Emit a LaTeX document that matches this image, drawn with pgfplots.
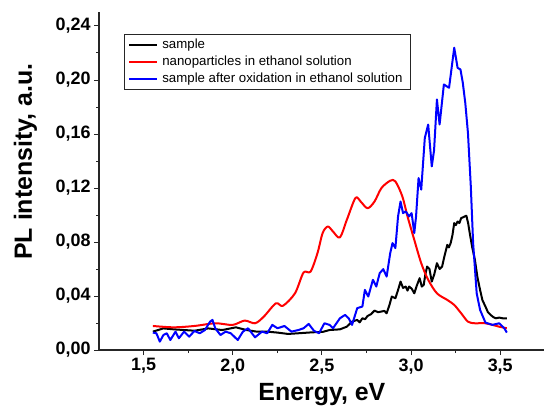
\documentclass[border=0pt]{standalone}
\usepackage{pgfplots}
\pgfplotsset{compat=1.18}
\usepackage{fontspec}
\setmainfont{Liberation Sans}

\definecolor{plBlack}{HTML}{000000}
\definecolor{plRed}{HTML}{FF0000}
\definecolor{plBlue}{HTML}{0000FF}

\begin{document}
\begin{tikzpicture}[x=1bp,y=1bp]
\useasboundingbox (0,0) rectangle (544,407);
\begin{axis}[
    at={(99bp,57bp)}, anchor=south west,
    scale only axis, width=445.8bp, height=337.5bp,
    xmin=1.25, xmax=3.75, ymin=0, ymax=0.25,
    axis x line*=bottom, axis y line*=left,
    axis line style={black!85, line width=1.3bp, -},
    xtick={1.5,2,2.5,3,3.5}, ytick={0,0.04,0.08,0.12,0.16,0.2,0.24},
    minor x tick num=1, minor y tick num=1,
    tick align=outside,
    major tick length=5bp, minor tick length=3bp,
    tick style={black!85, line width=1bp},
    /pgf/number format/assume math mode=true,
    /pgf/number format/.cd, use comma, fixed, fixed zerofill, precision=2, /pgfplots/.cd,
    xticklabel style={/pgf/number format/precision=1},
    tick label style={font=\bfseries\fontsize{18}{18}\selectfont},
    xlabel={Energy, eV}, ylabel={PL intensity, a.u.},
    label style={font=\bfseries\fontsize{25}{25}\selectfont},
    xlabel style={at={([yshift=-50.5bp]axis description cs:0.5,0)}, anchor=base},
    ylabel style={at={([xshift=-67bp]axis description cs:0,0.558)}, anchor=base},
    legend cell align=left,
    legend style={at={(0.056,0.936)}, anchor=north west, draw=black!85, line width=0.8bp,
      font=\fontsize{13.3}{13.3}\selectfont, inner xsep=4bp, inner ysep=2.5bp, row sep=0pt,
      nodes={inner xsep=4bp, inner ysep=1.85bp, text height=10bp, text depth=3bp}},
    legend image code/.code={\draw[#1] (0bp,0bp) -- (28bp,0bp);},
    every axis plot/.append style={line width=2bp, line join=round},
  ]
  \addplot[plBlack] coordinates {
    (1.552,0.0136) (1.611,0.0160) (1.669,0.0153) (1.727,0.0148) (1.785,0.0143)
    (1.863,0.0160) (1.941,0.0148) (2.018,0.0168) (2.077,0.0148) (2.135,0.0136)
    (2.193,0.0136) (2.251,0.0129) (2.310,0.0119) (2.368,0.0124) (2.446,0.0131)
    (2.504,0.0134) (2.543,0.0148) (2.601,0.0153) (2.640,0.0173) (2.669,0.0210)
    (2.698,0.0223) (2.712,0.0205) (2.727,0.0235) (2.742,0.0228) (2.756,0.0252)
    (2.775,0.0265) (2.795,0.0292) (2.815,0.0280) (2.834,0.0285) (2.850,0.0290)
    (2.863,0.0272) (2.878,0.0330) (2.892,0.0396) (2.912,0.0383) (2.926,0.0440)
    (2.941,0.0507) (2.955,0.0460) (2.970,0.0470) (2.980,0.0440) (2.989,0.0470)
    (3.003,0.0455) (3.018,0.0420) (3.033,0.0480) (3.048,0.0532) (3.060,0.0470)
    (3.071,0.0482) (3.080,0.0560) (3.090,0.0618) (3.103,0.0600) (3.116,0.0507)
    (3.130,0.0560) (3.145,0.0643) (3.160,0.0600) (3.174,0.0618) (3.188,0.0700)
    (3.203,0.0779) (3.212,0.0760) (3.222,0.0792) (3.232,0.0850) (3.242,0.0940)
    (3.251,0.0925) (3.261,0.0952) (3.271,0.0940) (3.281,0.0977) (3.295,0.0985)
    (3.310,0.0995) (3.320,0.0940) (3.329,0.0866) (3.343,0.0760) (3.358,0.0668)
    (3.372,0.0540) (3.387,0.0445) (3.400,0.0370) (3.417,0.0322) (3.431,0.0280)
    (3.446,0.0260) (3.460,0.0245) (3.475,0.0235) (3.495,0.0240) (3.513,0.0235)
    (3.537,0.0235)};
  \addlegendentry{sample}
  \addplot[plRed, smooth] coordinates {
    (1.552,0.0178) (1.669,0.0168) (1.785,0.0178) (1.902,0.0198) (1.999,0.0186)
    (2.067,0.0218) (2.125,0.0198) (2.174,0.0247) (2.242,0.0346) (2.281,0.0327)
    (2.349,0.0420) (2.397,0.0574) (2.436,0.0580) (2.475,0.0717) (2.504,0.0866)
    (2.533,0.0915) (2.562,0.0878) (2.601,0.0834) (2.640,0.0965) (2.688,0.1126)
    (2.717,0.1100) (2.756,0.1050) (2.795,0.1100) (2.834,0.1200) (2.883,0.1254)
    (2.912,0.1249) (2.951,0.1138) (2.980,0.0990) (3.018,0.0816) (3.057,0.0643)
    (3.096,0.0520) (3.145,0.0420) (3.203,0.0371) (3.242,0.0334) (3.281,0.0272)
    (3.319,0.0210) (3.358,0.0198) (3.417,0.0198) (3.494,0.0173) (3.537,0.0161)};
  \addlegendentry{nanoparticles in ethanol solution}
  \addplot[plBlue] coordinates {
    (1.552,0.0129) (1.572,0.0124) (1.591,0.0062) (1.611,0.0111) (1.630,0.0124)
    (1.650,0.0074) (1.679,0.0136) (1.698,0.0087) (1.727,0.0136) (1.756,0.0099)
    (1.785,0.0141) (1.815,0.0124) (1.844,0.0148) (1.873,0.0210) (1.886,0.0223)
    (1.902,0.0161) (1.931,0.0111) (1.960,0.0136) (1.989,0.0124) (2.028,0.0074)
    (2.057,0.0136) (2.086,0.0161) (2.125,0.0094) (2.164,0.0136) (2.193,0.0124)
    (2.222,0.0186) (2.251,0.0161) (2.290,0.0178) (2.329,0.0136) (2.368,0.0148)
    (2.397,0.0161) (2.426,0.0193) (2.455,0.0143) (2.484,0.0124) (2.514,0.0198)
    (2.543,0.0186) (2.562,0.0161) (2.601,0.0235) (2.630,0.0260) (2.650,0.0235)
    (2.669,0.0186) (2.698,0.0310) (2.727,0.0322) (2.741,0.0445) (2.760,0.0396)
    (2.786,0.0520) (2.805,0.0470) (2.824,0.0569) (2.844,0.0599) (2.863,0.0544)
    (2.883,0.0717) (2.896,0.0792) (2.912,0.0755) (2.927,0.0990) (2.941,0.1100)
    (2.955,0.1014) (2.970,0.1027) (2.989,0.0990) (3.003,0.1014) (3.018,0.0866)
    (3.028,0.0990) (3.042,0.1274) (3.057,0.1188) (3.077,0.1570) (3.096,0.1670)
    (3.116,0.1360) (3.129,0.1480) (3.145,0.1856) (3.160,0.1670) (3.184,0.1967)
    (3.213,0.1942) (3.242,0.2239) (3.261,0.2090) (3.277,0.2078) (3.290,0.1980)
    (3.304,0.1830) (3.319,0.1608) (3.335,0.1212) (3.348,0.0792) (3.368,0.0420)
    (3.387,0.0297) (3.417,0.0203) (3.456,0.0186) (3.494,0.0198) (3.523,0.0161)
    (3.537,0.0129)};
  \addlegendentry{sample after oxidation in ethanol solution}
\end{axis}
\end{tikzpicture}
\end{document}
